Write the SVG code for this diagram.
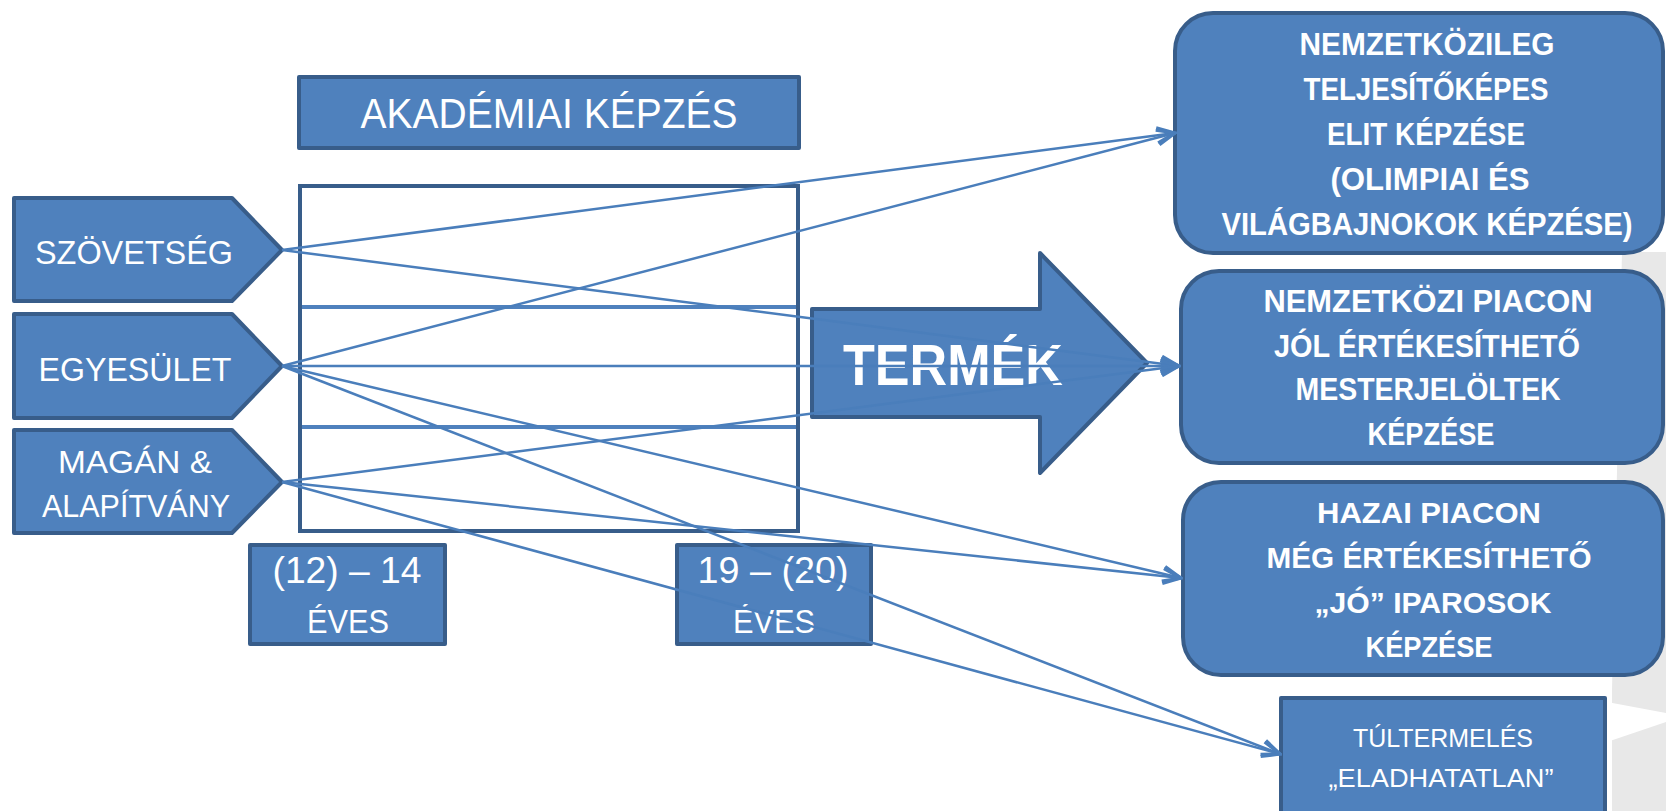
<svg xmlns="http://www.w3.org/2000/svg" width="1666" height="811" viewBox="0 0 1666 811">
<style>
.box{fill:#4F81BD;stroke:#385D8A;stroke-width:4;stroke-linejoin:round}
.t{fill:#FFFFFF;font-family:"Liberation Sans",Arial,sans-serif;text-anchor:middle}
.b{font-weight:bold}
.con{fill:none;stroke:#4A7EBB;stroke-width:2.5}
</style>
<defs>
<marker id="ah" viewBox="0 0 22 18" refX="20" refY="9" markerWidth="22" markerHeight="18" markerUnits="userSpaceOnUse" orient="auto">
<path d="M2,1.5 L20,9 L2,16.5" fill="none" stroke="#4A7EBB" stroke-width="3.2"/>
</marker>
</defs>
<rect width="1666" height="811" fill="#FFFFFF"/>
<g id="background">
<polygon points="1622,252 1666,252 1666,811 1612,811 1612,690" fill="#E8E8E8"/>
<polygon points="1607,702 1666,713 1666,722 1607,742" fill="#FFFFFF"/>
</g>
<g id="akademiai">
<rect class="box" x="299" y="77" width="500" height="71"/>
<text class="t" x="549" y="128" font-size="43" textLength="377" lengthAdjust="spacingAndGlyphs">AKADÉMIAI KÉPZÉS</text>
</g>
<g id="frame">
<rect x="300" y="186" width="498" height="345" fill="#FFFFFF" stroke="#385D8A" stroke-width="4"/>
<line x1="302" y1="307" x2="796" y2="307" stroke="#4F81BD" stroke-width="4"/>
<line x1="302" y1="427" x2="796" y2="427" stroke="#4F81BD" stroke-width="4"/>
</g>
<g id="szovetseg">
<path class="box" d="M14,198 L232,198 L282,250 L232,301 L14,301 Z"/>
<text class="t" x="134" y="264" font-size="34" textLength="198" lengthAdjust="spacingAndGlyphs">SZÖVETSÉG</text>
</g>
<g id="egyesulet">
<path class="box" d="M14,314 L232,314 L282,366 L232,418 L14,418 Z"/>
<text class="t" x="135" y="381" font-size="34" textLength="193" lengthAdjust="spacingAndGlyphs">EGYESÜLET</text>
</g>
<g id="magan">
<path class="box" d="M14,430 L232,430 L282,482 L232,533 L14,533 Z"/>
<text class="t" x="135" y="473" font-size="32" textLength="154" lengthAdjust="spacingAndGlyphs">MAGÁN &amp;</text>
<text class="t" x="136" y="517" font-size="32" textLength="188" lengthAdjust="spacingAndGlyphs">ALAPÍTVÁNY</text>
</g>
<g id="age-start">
<rect class="box" x="250" y="545" width="195" height="99"/>
<text class="t" x="347" y="583" font-size="36" textLength="149" lengthAdjust="spacingAndGlyphs">(12) – 14</text>
<text class="t" x="348" y="633" font-size="34" textLength="82" lengthAdjust="spacingAndGlyphs">ÉVES</text>
</g>
<g id="age-end">
<rect class="box" x="677" y="545" width="194" height="99"/>
<text class="t" x="773" y="583" font-size="36" textLength="151" lengthAdjust="spacingAndGlyphs">19 – (20)</text>
<text class="t" x="774" y="633" font-size="34" textLength="82" lengthAdjust="spacingAndGlyphs">ÉVES</text>
</g>
<g id="termek">
<polygon class="box" points="812,309 1040,309 1040,253 1147,363 1040,473 1040,417 812,417"/>
<text class="t b" x="953" y="385" font-size="58" textLength="220" lengthAdjust="spacingAndGlyphs">TERMÉK</text>
</g>
<g id="elit">
<rect class="box" x="1175" y="13" width="488" height="240" rx="38" ry="38"/>
<text class="t b" x="1427" y="55" font-size="31" textLength="255" lengthAdjust="spacingAndGlyphs">NEMZETKÖZILEG</text>
<text class="t b" x="1426" y="100" font-size="31" textLength="245" lengthAdjust="spacingAndGlyphs">TELJESÍTŐKÉPES</text>
<text class="t b" x="1426" y="145" font-size="31" textLength="198" lengthAdjust="spacingAndGlyphs">ELIT KÉPZÉSE</text>
<text class="t b" x="1430" y="190" font-size="31" textLength="199" lengthAdjust="spacingAndGlyphs">(OLIMPIAI ÉS</text>
<text class="t b" x="1427" y="235" font-size="31" textLength="411" lengthAdjust="spacingAndGlyphs">VILÁGBAJNOKOK KÉPZÉSE)</text>
</g>
<g id="mester">
<rect class="box" x="1181" y="271" width="482" height="192" rx="38" ry="38"/>
<text class="t b" x="1428" y="312" font-size="31" textLength="329" lengthAdjust="spacingAndGlyphs">NEMZETKÖZI PIACON</text>
<text class="t b" x="1427" y="357" font-size="31" textLength="306" lengthAdjust="spacingAndGlyphs">JÓL ÉRTÉKESÍTHETŐ</text>
<text class="t b" x="1428" y="400" font-size="31" textLength="265" lengthAdjust="spacingAndGlyphs">MESTERJELÖLTEK</text>
<text class="t b" x="1431" y="445" font-size="31" textLength="127" lengthAdjust="spacingAndGlyphs">KÉPZÉSE</text>
</g>
<g id="iparosok">
<rect class="box" x="1183" y="482" width="480" height="193" rx="38" ry="38"/>
<text class="t b" x="1429" y="523" font-size="30" textLength="224" lengthAdjust="spacingAndGlyphs">HAZAI PIACON</text>
<text class="t b" x="1429" y="568" font-size="30" textLength="325" lengthAdjust="spacingAndGlyphs">MÉG ÉRTÉKESÍTHETŐ</text>
<text class="t b" x="1433" y="613" font-size="30" textLength="237" lengthAdjust="spacingAndGlyphs">„JÓ” IPAROSOK</text>
<text class="t b" x="1429" y="657" font-size="30" textLength="127" lengthAdjust="spacingAndGlyphs">KÉPZÉSE</text>
</g>
<g id="tultermeles">
<rect class="box" x="1281" y="698" width="324" height="130"/>
<text class="t" x="1443" y="747" font-size="26" textLength="180" lengthAdjust="spacingAndGlyphs">TÚLTERMELÉS</text>
<text class="t" x="1441" y="787" font-size="26" textLength="225" lengthAdjust="spacingAndGlyphs">„ELADHATATLAN”</text>
</g>
<g id="connectors">
<line class="con" x1="282" y1="250" x2="1175" y2="133" marker-end="url(#ah)"/>
<line class="con" x1="282" y1="250" x2="1179" y2="366" marker-end="url(#ah)"/>
<line class="con" x1="282" y1="366" x2="1175" y2="133" marker-end="url(#ah)"/>
<line class="con" x1="282" y1="366" x2="1179" y2="366" marker-end="url(#ah)"/>
<line class="con" x1="282" y1="366" x2="1181" y2="578" marker-end="url(#ah)"/>
<line class="con" x1="282" y1="366" x2="1280" y2="754" marker-end="url(#ah)"/>
<line class="con" x1="282" y1="482" x2="1179" y2="366" marker-end="url(#ah)"/>
<line class="con" x1="282" y1="482" x2="1181" y2="578" marker-end="url(#ah)"/>
<line class="con" x1="282" y1="482" x2="1280" y2="754" marker-end="url(#ah)"/>
</g>
</svg>
